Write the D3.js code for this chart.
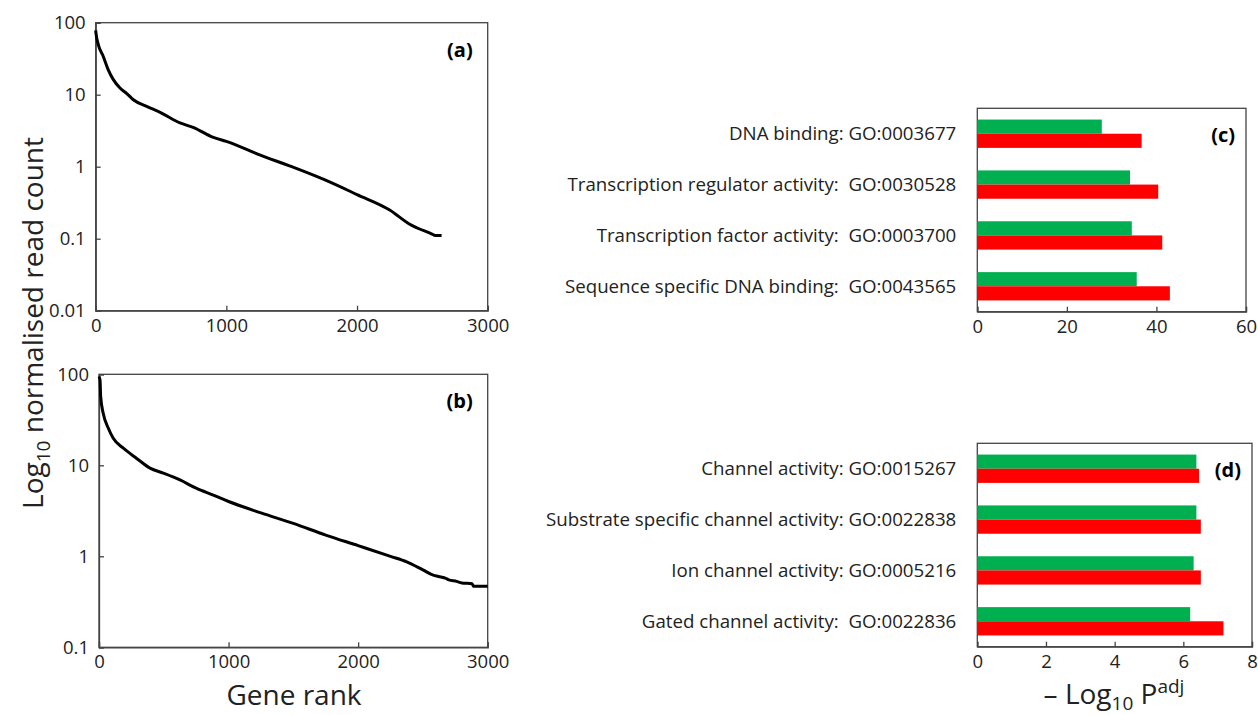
<!DOCTYPE html>
<html>
<head>
<meta charset="utf-8">
<script src="https://cdn.jsdelivr.net/npm/d3@7"></script>
<style>
  body { margin: 0; background: #fff; }
  svg { font-family: "Open Sans", sans-serif; }
  .axis path, .axis line { stroke: #444; stroke-width: 1.3; }
  .axis text { font-size: 18.5px; fill: #222; font-family: "Open Sans", sans-serif; }
</style>
</head>
<body>
<script>
// read count curves, gene rank vs normalised count
var rankA = [0, 2, 20, 58, 97, 135, 186, 240, 288, 390, 500, 645, 750, 900, 1000, 1250, 1500, 1750, 2000, 2250, 2400, 2570, 2600, 2647];
var countA = [78, 72, 49.5, 34, 22, 16.2, 12.4, 10.3, 8.5, 6.9, 5.6, 4.05, 3.5, 2.55, 2.25, 1.47, 1.0, 0.66, 0.41, 0.25, 0.16, 0.117, 0.111, 0.111];

var rankB = [0, 8, 13, 33, 72, 110, 188, 291, 394, 497, 625, 750, 882, 1000, 1250, 1500, 1750, 2000, 2250, 2375, 2500, 2580, 2620, 2680, 2700, 2760, 2800, 2880, 2890, 3000];
var countB = [95, 86, 56.7, 37, 25.5, 19.8, 15.4, 11.9, 9.3, 8.2, 6.9, 5.6, 4.7, 4.0, 3.0, 2.3, 1.71, 1.31, 1.0, 0.87, 0.71, 0.62, 0.6, 0.57, 0.55, 0.53, 0.51, 0.5, 0.47, 0.47];

var ticksA = [0.01, 0.1, 1, 10, 100];
var ticksB = [0.1, 1, 10, 100];
var rankTicks = [0, 1000, 2000, 3000];

// GO enrichment, -log10 Padj
var termsC = ["DNA binding: GO:0003677", "Transcription regulator activity:  GO:0030528", "Transcription factor activity:  GO:0003700", "Sequence specific DNA binding:  GO:0043565"];
var greenC = [27.8, 34.1, 34.5, 35.6];
var redC = [36.7, 40.4, 41.3, 43.0];
var ticksC = [0, 20, 40, 60];

var termsD = ["Channel activity: GO:0015267", "Substrate specific channel activity: GO:0022838", "Ion channel activity: GO:0005216", "Gated channel activity:  GO:0022836"];
var greenD = [6.38, 6.38, 6.30, 6.20];
var redD = [6.46, 6.51, 6.51, 7.17];
var ticksD = [0, 2, 4, 6, 8];

var svg = d3.select("body").append("svg").attr("width", 1258).attr("height", 715);

function linePanel(box, ranks, counts, yDomain, yTicks, tag) {
  var x = d3.scaleLinear().domain([0, 3000]).range([box.x0, box.x1]);
  var y = d3.scaleLog().domain(yDomain).range([box.y1, box.y0]);

  svg.append("rect")
    .attr("x", box.x0).attr("y", box.y0)
    .attr("width", box.x1 - box.x0).attr("height", box.y1 - box.y0)
    .attr("fill", "none").attr("stroke", "#444").attr("stroke-width", 1.3);

  svg.append("g").attr("class", "axis")
    .attr("transform", "translate(0," + box.y1 + ")")
    .call(d3.axisBottom(x).tickValues(rankTicks).tickSize(-5).tickPadding(8).tickFormat(d3.format("d")));

  svg.append("g").attr("class", "axis")
    .attr("transform", "translate(" + box.x0 + ",0)")
    .call(d3.axisLeft(y).tickValues(yTicks).tickSize(-5).tickPadding(10).tickFormat(function (d) { return String(d); }));

  var pts = ranks.map(function (r, i) { return [r, counts[i]]; });
  svg.append("path")
    .datum(pts)
    .attr("fill", "none")
    .attr("stroke", "#000")
    .attr("stroke-width", 3)
    .attr("stroke-linejoin", "round")
    .attr("d", d3.line().curve(d3.curveMonotoneX).x(function (d) { return x(d[0]); }).y(function (d) { return y(d[1]); }));

  svg.append("text")
    .attr("x", box.x1 - 15).attr("y", box.y0 + 34)
    .attr("text-anchor", "end")
    .attr("font-weight", "bold").attr("font-size", 20)
    .text(tag);
}

function barPanel(box, terms, green, red, xMax, xTicks, tag) {
  var x = d3.scaleLinear().domain([0, xMax]).range([box.x0, box.x1]);
  var y = d3.scaleBand().domain(terms).range([box.y0, box.y1]).paddingInner(0.443).paddingOuter(0.2215);
  var sub = d3.scaleBand().domain(["g", "r"]).range([0, y.bandwidth()]);

  svg.append("rect")
    .attr("x", box.x0).attr("y", box.y0)
    .attr("width", box.x1 - box.x0).attr("height", box.y1 - box.y0)
    .attr("fill", "none").attr("stroke", "#444").attr("stroke-width", 1.3);

  var rows = svg.append("g").selectAll("g").data(terms).enter().append("g")
    .attr("transform", function (d) { return "translate(0," + y(d) + ")"; });

  rows.append("rect")
    .attr("x", x(0)).attr("y", sub("g"))
    .attr("width", function (d, i) { return x(green[i]) - x(0); })
    .attr("height", sub.bandwidth())
    .attr("fill", "#00b050");

  rows.append("rect")
    .attr("x", x(0)).attr("y", sub("r"))
    .attr("width", function (d, i) { return x(red[i]) - x(0); })
    .attr("height", sub.bandwidth())
    .attr("fill", "#ff0000");

  rows.append("text")
    .attr("x", box.x0 - 21)
    .attr("y", y.bandwidth() / 2)
    .attr("dy", "0.35em")
    .attr("text-anchor", "end")
    .attr("font-size", 18.7)
    .attr("fill", "#222")
    .style("white-space", "pre")
    .text(function (d) { return d; });

  svg.append("g").attr("class", "axis")
    .attr("transform", "translate(0," + box.y1 + ")")
    .call(d3.axisBottom(x).tickValues(xTicks).tickSize(-5).tickPadding(8));

  svg.append("text")
    .attr("x", box.x1 - 11).attr("y", box.y0 + 34)
    .attr("text-anchor", "end")
    .attr("font-weight", "bold").attr("font-size", 20)
    .text(tag);
}

linePanel({ x0: 95.7, x1: 487.7, y0: 22.7, y1: 310.7 }, rankA, countA, [0.01, 100], ticksA, "(a)");
linePanel({ x0: 99, x1: 487.7, y0: 374.3, y1: 647.3 }, rankB, countB, [0.1, 100], ticksB, "(b)");
barPanel({ x0: 977.3, x1: 1246, y0: 108.3, y1: 311.7 }, termsC, greenC, redC, 60, ticksC, "(c)");
barPanel({ x0: 977.3, x1: 1252, y0: 443.3, y1: 646.7 }, termsD, greenD, redD, 8, ticksD, "(d)");

// shared axis titles
var yt = svg.append("text")
  .attr("transform", "translate(43,323) rotate(-90)")
  .attr("text-anchor", "middle")
  .attr("font-size", 28)
  .attr("fill", "#222");
yt.append("tspan").text("Log");
yt.append("tspan").attr("font-size", 19).attr("dy", 7).text("10");
yt.append("tspan").attr("dy", -7).text(" normalised read count");

svg.append("text")
  .attr("x", 294).attr("y", 705)
  .attr("text-anchor", "middle")
  .attr("font-size", 28)
  .attr("fill", "#222")
  .text("Gene rank");

var xt = svg.append("text")
  .attr("x", 1114).attr("y", 704)
  .attr("text-anchor", "middle")
  .attr("font-size", 28)
  .attr("fill", "#222");
xt.append("tspan").text("\u2013 Log");
xt.append("tspan").attr("font-size", 19).attr("dy", 6).text("10");
xt.append("tspan").attr("dy", -6).text(" P");
xt.append("tspan").attr("font-size", 19).attr("dy", -11).text("adj");
</script>
</body>
</html>
